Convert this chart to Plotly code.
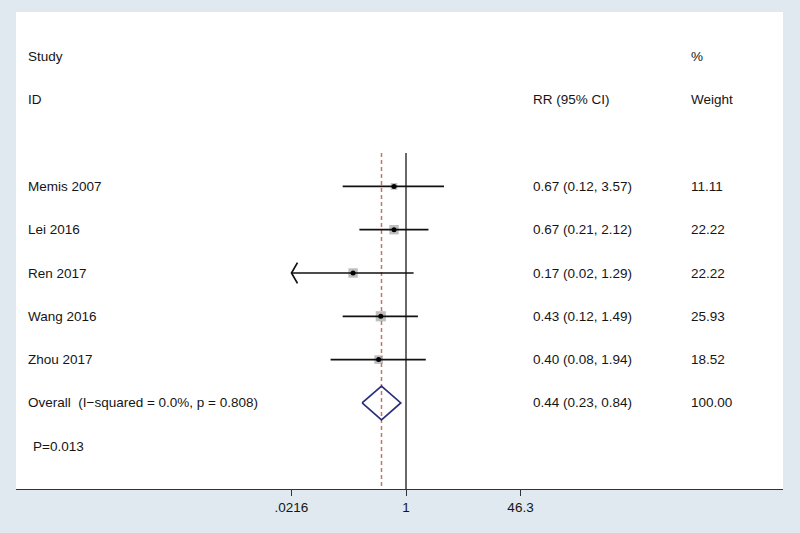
import math
import plotly.graph_objects as go

# ---- data ----
studies = ["Memis 2007", "Lei 2016", "Ren 2017", "Wang 2016", "Zhou 2017"]
rr = [0.67, 0.67, 0.17, 0.43, 0.40]
ci_low = [0.12, 0.21, 0.02, 0.12, 0.08]
ci_high = [3.57, 2.12, 1.29, 1.49, 1.94]
weights = [11.11, 22.22, 22.22, 25.93, 18.52]
overall_label = "Overall  (I\u2212squared = 0.0%, p = 0.808)"
overall_rr = 0.44
overall_low = 0.23
overall_high = 0.84
overall_weight = 100.00
p_text = "P=0.013"
tick_vals = [0.0216, 1, 46.3]
tick_text = [".0216", "1", "46.3"]

# ---- style ----
FONT = "Liberation Sans, Arial, sans-serif"
TXT = "#151515"
FS = 13.5
L, R, T, B = 16, 17, 12, 44
W, H = 800, 533
PX_PER_DEC = 68.75
NULL_PX = 406
ROW0_PX, ROW_SP = 186.4, 43.3
plot_w = W - L - R

xr = [(L - NULL_PX) / PX_PER_DEC, (W - R - NULL_PX) / PX_PER_DEC]
y_top = (T - ROW0_PX) / ROW_SP
y_bot = (H - B - ROW0_PX) / ROW_SP
line_top = (153 - ROW0_PX) / ROW_SP

xmin, xmax = tick_vals[0], tick_vals[-1]
rows = list(range(len(studies)))

fig = go.Figure()

# reference lines
fig.add_trace(go.Scatter(x=[1, 1], y=[line_top, y_bot], mode="lines",
                         line=dict(color="#2a2a2a", width=1.4), hoverinfo="skip"))
fig.add_trace(go.Scatter(x=[overall_rr, overall_rr], y=[line_top, y_bot], mode="lines",
                         line=dict(color="#c0766a", width=1.5, dash="4px,3px"), hoverinfo="skip"))

# weight squares
fig.add_trace(go.Scatter(x=rr, y=rows, mode="markers",
                         marker=dict(symbol="square", color="#a3a3a3",
                                     size=[math.sqrt(w) * 2.0 for w in weights],
                                     line=dict(width=0)),
                         hoverinfo="skip"))

# CI lines (clipped at axis extremes, arrows where clipped)
for i in rows:
    lo = max(ci_low[i], xmin)
    hi = min(ci_high[i], xmax)
    fig.add_trace(go.Scatter(x=[lo, hi], y=[i, i], mode="lines",
                             line=dict(color="#111111", width=1.7), hoverinfo="skip"))
    if ci_low[i] < xmin:
        arm = xmin * 10 ** (6 / PX_PER_DEC)
        fig.add_trace(go.Scatter(x=[arm, xmin, arm], y=[i - 0.24, i, i + 0.24], mode="lines",
                                 line=dict(color="#111111", width=1.7), hoverinfo="skip"))
    if ci_high[i] > xmax:
        arm = xmax / 10 ** (6 / PX_PER_DEC)
        fig.add_trace(go.Scatter(x=[arm, xmax, arm], y=[i - 0.24, i, i + 0.24], mode="lines",
                                 line=dict(color="#111111", width=1.7), hoverinfo="skip"))

# point estimate dots
fig.add_trace(go.Scatter(x=rr, y=rows, mode="markers",
                         marker=dict(symbol="circle", color="#000000", size=5),
                         hoverinfo="skip"))

# overall diamond
orow = len(studies)
dh = 0.39
fig.add_trace(go.Scatter(x=[overall_low, overall_rr, overall_high, overall_rr, overall_low],
                         y=[orow, orow - dh, orow, orow + dh, orow], mode="lines",
                         line=dict(color="#2b2f7a", width=1.7), hoverinfo="skip"))

# text columns
def px2paper(px):
    return (px - L) / plot_w

annos = []
def add_text(txt, px, row):
    annos.append(dict(text=txt, x=px2paper(px), xref="paper", y=row, yref="y",
                      xanchor="left", yanchor="middle", showarrow=False,
                      font=dict(family=FONT, size=FS, color=TXT)))

add_text("Study", 25.5, -3)
add_text("ID", 25.5, -2)
add_text("RR (95% CI)", 530.5, -2)
add_text("%", 689, -3)
add_text("Weight", 689, -2)
for i in rows:
    add_text(studies[i], 25.5, i)
    add_text(f"{rr[i]:.2f} ({ci_low[i]:.2f}, {ci_high[i]:.2f})", 530.5, i)
    add_text(f"{weights[i]:.2f}", 689, i)
add_text(overall_label, 25.5, orow)
add_text(f"{overall_rr:.2f} ({overall_low:.2f}, {overall_high:.2f})", 530.5, orow)
add_text(f"{overall_weight:.2f}", 689, orow)
add_text(p_text, 31, orow + 1)

fig.update_layout(
    width=W, height=H,
    margin=dict(l=L, r=R, t=T, b=B),
    paper_bgcolor="#dfe9ef", plot_bgcolor="#ffffff",
    showlegend=False,
    annotations=annos,
    xaxis=dict(type="log", range=xr, tickvals=tick_vals, ticktext=tick_text,
               showgrid=False, zeroline=False, showline=True, linecolor="#333333",
               linewidth=1.4, ticks="outside", ticklen=6, tickcolor="#333333",
               tickfont=dict(family=FONT, size=FS, color=TXT), fixedrange=True),
    yaxis=dict(range=[y_bot, y_top], showgrid=False, zeroline=False, showline=False,
               showticklabels=False, ticks="", fixedrange=True),
)

fig.write_html("out.html", config={"displayModeBar": False},
               post_script="document.body.style.margin='0';document.body.style.overflow='hidden';")
